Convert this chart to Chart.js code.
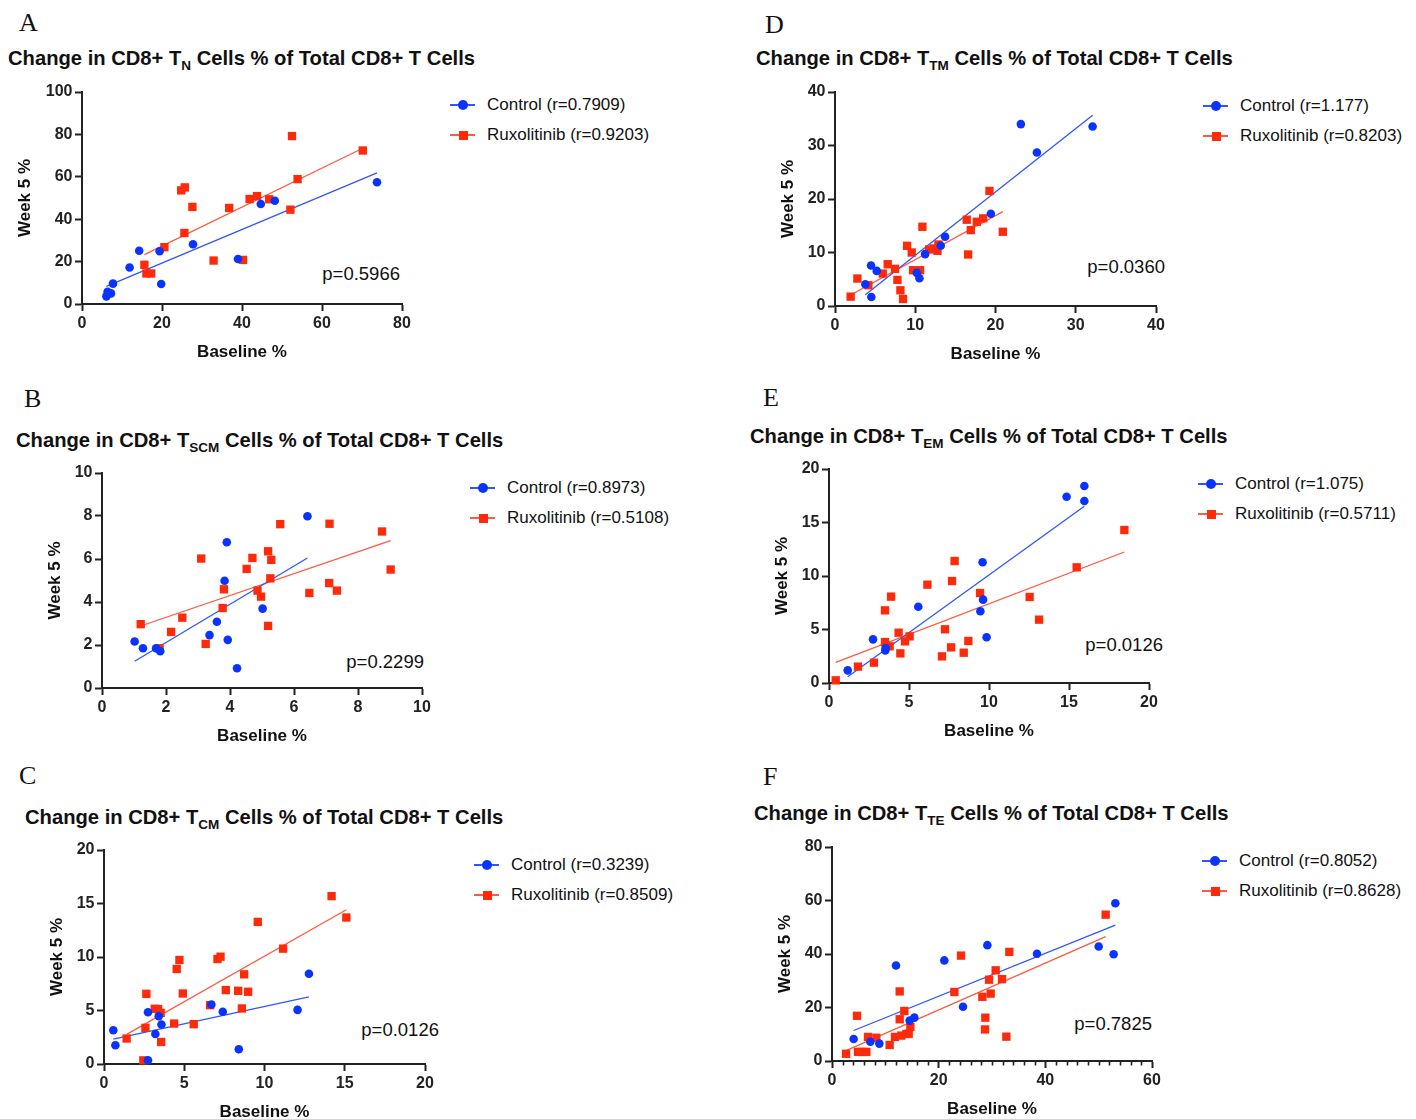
<!DOCTYPE html>
<html><head><meta charset="utf-8">
<script src="https://cdn.jsdelivr.net/npm/chart.js@4.4.1/dist/chart.umd.min.js"></script>
<style>
body{margin:0;width:1416px;height:1119px;overflow:hidden;background:#fff;position:relative;font-family:"Liberation Sans",Arial,Helvetica,sans-serif;color:#111}
.abs{position:absolute}
.letter{font-family:"Liberation Serif","Times New Roman",serif;font-size:26px;line-height:26px;height:26px}
.title{font-weight:bold;font-size:20.2px;line-height:24px;height:24px;white-space:nowrap}
.title sub{font-size:13.5px;vertical-align:-5px;line-height:0}
.leg{font-size:17px;line-height:20px;height:20px;white-space:nowrap}
.mk{position:absolute;width:25px;height:20px;top:0}
.mk .ln{position:absolute;left:0;width:25px;top:9px;height:1.6px}
.mk .sh{position:absolute;left:8px;top:5px;width:10px;height:10px}
.pv{font-size:18.5px;line-height:22px;height:22px;white-space:nowrap;text-align:right}
canvas{position:absolute}
</style>
</head><body>
<script>
// ---------------- data ----------------
const panelLetters = ['A','B','C','D','E','F'];
const titleSubs = ['N','SCM','CM','TM','EM','TE'];
const legendCtrl = ['Control (r=0.7909)','Control (r=0.8973)','Control (r=0.3239)','Control (r=1.177)','Control (r=1.075)','Control (r=0.8052)'];
const legendRux = ['Ruxolitinib (r=0.9203)','Ruxolitinib (r=0.5108)','Ruxolitinib (r=0.8509)','Ruxolitinib (r=0.8203)','Ruxolitinib (r=0.5711)','Ruxolitinib (r=0.8628)'];
const pValues = ['p=0.5966','p=0.2299','p=0.0126','p=0.0360','p=0.0126','p=0.7825'];
const xAxisTitle = 'Baseline %';
const yAxisTitle = 'Week 5 %';

// axis ranges per panel
const xMaxes = [80, 10, 20, 40, 20, 60];
const xSteps = [20, 2, 5, 10, 5, 20];
const yMaxes = [100, 10, 20, 40, 20, 80];
const ySteps = [20, 2, 5, 10, 5, 20];
const xMinorStepF = 2;

// Panel A (T_N)
const aCtrlX = [6.1, 7.25, 6.4, 7.75, 11.9, 14.3, 19.4, 19.8, 27.75, 39.0, 44.7, 48.2, 73.75];
const aCtrlY = [3.6, 5.0, 5.8, 9.6, 17.2, 25.1, 24.9, 9.4, 28.2, 21.2, 47.2, 48.7, 57.4];
const aRuxX = [15.6, 16.1, 17.3, 20.6, 25.6, 24.8, 25.7, 27.6, 32.9, 36.8, 40.25, 41.9, 43.75, 46.8, 52.1, 52.5, 53.9, 70.2];
const aRuxY = [18.5, 14.4, 14.4, 26.8, 33.5, 53.6, 55.0, 45.8, 20.5, 45.3, 20.8, 49.5, 50.9, 49.4, 44.5, 79.2, 58.9, 72.4];

// Panel B (T_SCM)
const bCtrlX = [1.02, 1.28, 1.69, 1.82, 3.36, 3.59, 3.93, 3.83, 3.9, 4.22, 5.02, 6.42];
const bCtrlY = [2.16, 1.85, 1.85, 1.71, 2.46, 3.08, 2.24, 4.99, 6.78, 0.92, 3.69, 7.99];
const bRuxX = [1.21, 1.8, 2.16, 2.51, 3.1, 3.24, 3.77, 3.81, 4.52, 4.70, 4.86, 4.97, 5.19, 5.19, 5.29, 5.26, 5.57, 6.48, 7.11, 7.10, 7.34, 8.75, 9.02];
const bRuxY = [2.97, 1.85, 2.61, 3.27, 6.02, 2.05, 3.72, 4.59, 5.54, 6.05, 4.53, 4.25, 2.89, 6.36, 5.96, 5.10, 7.62, 4.42, 7.64, 4.88, 4.53, 7.28, 5.51];

// Panel C (T_CM)
const cCtrlX = [0.58, 0.71, 2.74, 2.74, 3.2, 3.41, 3.58, 6.69, 7.4, 8.4, 12.06, 12.77];
const cCtrlY = [3.16, 1.75, 4.84, 0.34, 2.81, 4.47, 3.69, 5.56, 4.88, 1.38, 5.06, 8.44];
const cRuxX = [1.41, 2.45, 2.58, 2.64, 3.16, 3.37, 3.53, 3.56, 4.37, 4.53, 4.7, 4.91, 5.59, 6.61, 7.07, 7.26, 7.59, 8.36, 8.59, 8.73, 8.98, 9.58, 11.16, 14.18, 15.1];
const cRuxY = [2.38, 0.34, 3.38, 6.56, 5.16, 5.13, 4.78, 2.06, 3.78, 8.88, 9.72, 6.59, 3.72, 5.5, 9.81, 10.03, 6.91, 6.84, 5.19, 8.38, 6.75, 13.28, 10.78, 15.69, 13.69];

// Panel D (T_TM)
const dCtrlX = [3.78, 4.53, 4.49, 5.2, 10.19, 10.52, 11.23, 13.18, 13.72, 19.42, 23.16, 25.16, 32.1];
const dCtrlY = [4.06, 1.69, 7.56, 6.56, 6.19, 5.19, 9.69, 11.25, 12.94, 17.25, 34.0, 28.69, 33.56];
const dRuxX = [1.95, 2.79, 4.16, 5.95, 6.57, 7.48, 7.78, 8.15, 8.48, 8.98, 9.56, 9.73, 10.6, 10.89, 11.73, 12.35, 12.77, 12.89, 16.42, 16.59, 16.92, 17.67, 18.46, 19.25, 20.91];
const dRuxY = [1.75, 5.13, 3.88, 6.06, 7.81, 6.94, 4.88, 2.94, 1.31, 11.25, 10.0, 6.69, 6.69, 14.81, 10.56, 10.75, 10.31, 11.5, 16.13, 9.63, 14.19, 15.75, 16.38, 21.5, 13.88];

// Panel E (T_EM)
const eCtrlX = [1.17, 2.75, 3.52, 3.54, 5.58, 9.46, 9.6, 9.63, 9.85, 14.85, 15.96, 15.96];
const eCtrlY = [1.18, 4.08, 3.05, 3.27, 7.13, 6.7, 11.28, 7.79, 4.27, 17.41, 18.41, 17.01];
const eRuxX = [0.42, 1.81, 2.81, 3.5, 3.5, 3.79, 3.88, 4.35, 4.46, 4.75, 5.04, 6.15, 7.06, 7.25, 7.63, 7.69, 7.85, 8.42, 8.71, 9.44, 12.54, 13.13, 15.48, 18.46];
const eRuxY = [0.25, 1.53, 1.9, 3.83, 6.79, 3.43, 8.07, 4.7, 2.77, 3.89, 4.36, 9.19, 2.49, 5.02, 3.33, 9.53, 11.4, 2.83, 3.93, 8.41, 8.04, 5.92, 10.81, 14.3];

// Panel F (T_TE)
const fCtrlX = [4.06, 7.19, 8.88, 12.0, 14.56, 15.44, 21.06, 24.56, 29.13, 38.44, 50.0, 52.81, 53.13];
const fCtrlY = [8.2, 7.2, 6.5, 35.7, 15.1, 16.2, 37.6, 20.3, 43.3, 40.1, 42.8, 39.9, 59.0];
const fRuxX = [2.63, 4.69, 4.88, 5.63, 6.44, 6.75, 8.31, 10.81, 11.81, 12.69, 12.69, 13.0, 13.56, 13.94, 14.38, 14.69, 22.94, 24.19, 28.19, 28.75, 28.69, 29.44, 29.75, 30.69, 31.88, 32.69, 33.25, 51.31];
const fRuxY = [2.7, 16.9, 3.4, 3.4, 3.4, 9.0, 8.7, 6.0, 9.0, 26.0, 15.6, 9.5, 18.7, 10.1, 10.2, 12.7, 25.8, 39.4, 24.0, 16.2, 11.8, 30.4, 25.2, 33.9, 30.6, 9.1, 40.8, 54.7];

const ctrlXs = [aCtrlX, bCtrlX, cCtrlX, dCtrlX, eCtrlX, fCtrlX];
const ctrlYs = [aCtrlY, bCtrlY, cCtrlY, dCtrlY, eCtrlY, fCtrlY];
const ruxXs = [aRuxX, bRuxX, cRuxX, dRuxX, eRuxX, fRuxX];
const ruxYs = [aRuxY, bRuxY, cRuxY, dRuxY, eRuxY, fRuxY];

// ---------------- layout / style ----------------
const FONT = '"Liberation Sans", Arial, Helvetica, sans-serif';
const BLUE = '#0a33ff';
const RED = '#ff2a0a';
const BLUE_LINE = '#2f55ff';
const RED_LINE = '#ff5a40';
const AXIS = '#222';
// plot area [left, top, right, bottom] in page px
const layout = [
  {area:[82,92,402,304],  letter:[19,10], title:[8,46],   leg:[450,105,135], pv:[400,274], yOff:56.5},
  {area:[102,473,422,688], letter:[24,386], title:[16,428], leg:[470,488,518], pv:[424,662], yOff:47},
  {area:[104,850,425,1064], letter:[19,763], title:[25,805], leg:[474,865,895], pv:[439,1030], yOff:47},
  {area:[835,92,1156,306], letter:[765,12], title:[756,46], leg:[1203,106,136], pv:[1165,267], yOff:47},
  {area:[829,469,1149,683], letter:[763,385], title:[750,424], leg:[1198,484,514], pv:[1163,645], yOff:47},
  {area:[832,847,1152,1061], letter:[763,764], title:[754,801], leg:[1202,861,891], pv:[1152,1024], yOff:47}
];
const PADL = 80, PADT = 20, PADR = 25, XH = 65;

function pts(xs, ys){ return xs.map((x,i)=>({x:x, y:ys[i]})); }
function fitLine(xs, ys){
  const n = xs.length;
  const mx = xs.reduce((a,b)=>a+b,0)/n, my = ys.reduce((a,b)=>a+b,0)/n;
  let sxy=0, sxx=0;
  for(let i=0;i<n;i++){ sxy += (xs[i]-mx)*(ys[i]-my); sxx += (xs[i]-mx)*(xs[i]-mx); }
  const b = sxy/sxx, a = my - b*mx;
  const x0 = Math.min(...xs), x1 = Math.max(...xs);
  return [{x:x0, y:a+b*x0},{x:x1, y:a+b*x1}];
}

function addDiv(cls, left, top, html, extra){
  const d = document.createElement('div');
  d.className = 'abs ' + cls;
  d.style.left = left + 'px';
  d.style.top = top + 'px';
  if (extra) Object.assign(d.style, extra);
  d.innerHTML = html;
  document.body.appendChild(d);
  return d;
}

const minorTicks = {
  id:'minorTicks',
  afterDraw(chart, args, opts){
    if(!opts || !opts.step) return;
    const s = chart.scales.x, ctx = chart.ctx, y0 = chart.chartArea.bottom;
    ctx.save(); ctx.strokeStyle = AXIS; ctx.lineWidth = 1.6;
    for(let v = s.min; v <= s.max + 1e-9; v += opts.step){
      if (Math.abs(v % opts.major) < 1e-9) continue;
      const px = Math.round(s.getPixelForValue(v)) + 0.5;
      ctx.beginPath(); ctx.moveTo(px, y0); ctx.lineTo(px, y0 + 4.5); ctx.stroke();
    }
    ctx.restore();
  }
};

panelLetters.forEach((letter, i) => {
  const L = layout[i];
  const [l,t,r,b] = L.area;
  addDiv('letter', L.letter[0], L.letter[1], letter);
  addDiv('title', L.title[0], L.title[1], 'Change in CD8+ T<sub>' + titleSubs[i] + '</sub> Cells % of Total CD8+ T Cells');
  const lx = L.leg[0];
  addDiv('leg', lx, L.leg[1]-10, '<span class="mk"><span class="ln" style="background:'+BLUE_LINE+'"></span><span class="sh" style="background:'+BLUE+';border-radius:50%"></span></span><span style="position:absolute;left:37px;top:0">'+legendCtrl[i]+'</span>', {width:'260px'});
  addDiv('leg', lx, L.leg[2]-10, '<span class="mk"><span class="ln" style="background:'+RED_LINE+'"></span><span class="sh" style="background:'+RED+';left:8.5px;top:5.5px;width:9px;height:9px"></span></span><span style="position:absolute;left:37px;top:0">'+legendRux[i]+'</span>', {width:'260px'});
  addDiv('pv', L.pv[0]-120, L.pv[1]-11, pValues[i], {width:'120px'});

  const cv = document.createElement('canvas');
  const W = (r-l) + PADL + PADR, H = (b-t) + PADT + XH;
  cv.width = W; cv.height = H;
  cv.style.left = (l-PADL) + 'px'; cv.style.top = (t-PADT) + 'px';
  cv.style.width = W + 'px'; cv.style.height = H + 'px';
  document.body.appendChild(cv);

  const yTitlePad = PADL - L.yOff - 10.2;
  const cx = ctrlXs[i], cy = ctrlYs[i], rx = ruxXs[i], ry = ruxYs[i];

  new Chart(cv, {
    type:'scatter',
    data:{datasets:[
      {label:'Control', data:pts(cx,cy), pointStyle:'circle', pointRadius:4.3, pointHoverRadius:4.3, pointBackgroundColor:BLUE, pointBorderWidth:0, backgroundColor:BLUE, borderColor:BLUE, clip:false},
      {label:'Ruxolitinib', data:pts(rx,ry), pointStyle:'rect', pointRadius:5.9, pointHoverRadius:5.9, pointBackgroundColor:RED, pointBorderWidth:0, backgroundColor:RED, borderColor:RED, clip:false},
      {label:'Control fit', data:fitLine(cx,cy), showLine:true, pointRadius:0, borderColor:BLUE_LINE, borderWidth:1.3, clip:false},
      {label:'Ruxolitinib fit', data:fitLine(rx,ry), showLine:true, pointRadius:0, borderColor:RED_LINE, borderWidth:1.3, clip:false}
    ]},
    options:{
      responsive:false, animation:false, devicePixelRatio:1,
      layout:{padding:{left:0, top:PADT, right:PADR, bottom:0}},
      plugins:{legend:{display:false}, tooltip:{enabled:false},
        minorTicks: i===5 ? {step:xMinorStepF, major:xSteps[i]} : {}},
      scales:{
        x:{type:'linear', min:0, max:xMaxes[i],
          ticks:{stepSize:xSteps[i], color:AXIS, padding:2.5, font:{family:FONT, size:16, weight:'bold'}},
          grid:{drawOnChartArea:false, drawTicks:true, tickLength:7, tickColor:AXIS, tickWidth:2},
          border:{display:true, color:AXIS, width:2},
          title:{display:true, text:xAxisTitle, color:'#111', font:{family:FONT, size:17, weight:'bold'}, padding:{top:0, bottom:6.3}},
          afterFit(s){ s.height = XH; }
        },
        y:{type:'linear', min:0, max:yMaxes[i],
          ticks:{stepSize:ySteps[i], color:AXIS, padding:2.5, font:{family:FONT, size:16, weight:'bold'}},
          grid:{drawOnChartArea:false, drawTicks:true, tickLength:7, tickColor:AXIS, tickWidth:2},
          border:{display:true, color:AXIS, width:2},
          title:{display:true, text:yAxisTitle, color:'#111', font:{family:FONT, size:17, weight:'bold'}, padding:{top:yTitlePad, bottom:0}},
          afterFit(s){ s.width = PADL; }
        }
      }
    },
    plugins:[minorTicks]
  });
});
</script>
</body></html>
